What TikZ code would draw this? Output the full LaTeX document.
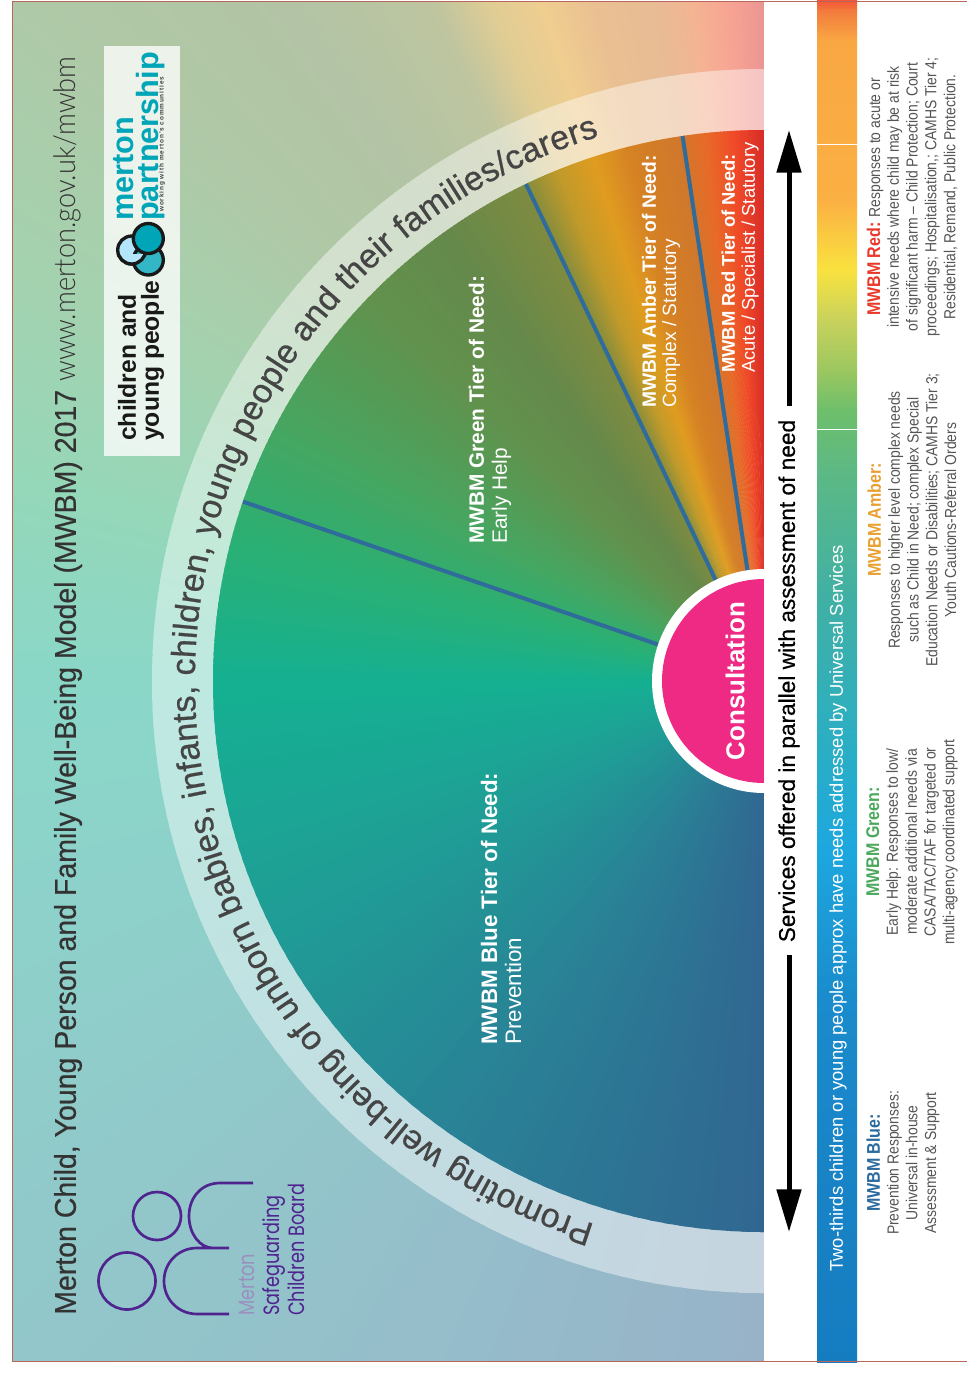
\documentclass[tikz,border=0pt]{standalone}
\usepackage{fontspec}
\usetikzlibrary{arrows.meta,decorations.text}
\setmainfont{Liberation Sans}
\newfontfamily\titlefont[FakeStretch=0.95,FakeBold=0.5]{Liberation Sans}
\newfontfamily\keyfont[FakeStretch=0.87]{Liberation Sans}
\newfontfamily\mediumfont[FakeBold=0.6]{Liberation Sans}
\newfontfamily\lightfont[UprightFont=* Light,FakeStretch=0.905]{Lato}
\newfontfamily\boardfont[FakeStretch=0.8]{Poppins}
\newcommand{\ringfont}{\mediumfont\fontsize{25.5}{28}\selectfont}
\definecolor{fanA}{HTML}{D02428}
\definecolor{fanB}{HTML}{F04A28}
\definecolor{fanC}{HTML}{E86A28}
\definecolor{fanD}{HTML}{D0782C}
\definecolor{fanE}{HTML}{D58124}
\definecolor{fanF}{HTML}{E09C20}
\definecolor{fanG}{HTML}{C09A2A}
\definecolor{fanH}{HTML}{7D8B40}
\definecolor{fanI}{HTML}{65894B}
\definecolor{fanJ}{HTML}{61914D}
\definecolor{fanK}{HTML}{4AA45E}
\definecolor{fanL}{HTML}{2AB074}
\definecolor{fanM}{HTML}{15B092}
\definecolor{fanN}{HTML}{1F9D96}
\definecolor{fanO}{HTML}{2A7F96}
\definecolor{fanP}{HTML}{316591}
\definecolor{tierblue}{HTML}{2F6B9B}
\definecolor{consultpink}{HTML}{EE2A84}
\definecolor{frameline}{HTML}{B8655A}
\definecolor{boardpurple}{HTML}{50248F}
\definecolor{boardlilac}{HTML}{9A90C0}
\definecolor{partnerteal}{HTML}{00A5B8}
\definecolor{bodygrey}{HTML}{555555}
\definecolor{ringink}{HTML}{454545}
\definecolor{amberhead}{HTML}{E8A030}
\definecolor{redhead}{HTML}{E8392B}
\definecolor{greenhead}{HTML}{4BA85C}
\definecolor{bluehead}{HTML}{2A6A9E}
\newcommand{\wheelfan}[1]{%
  \foreach \fromang/\toang/\fromcol/\tocol in {89/93/fanA/fanB,93/96/fanB/fanC,96/99/fanC/fanD,99/104/fanD/fanE,104/108/fanE/fanF,108/112/fanF/fanG,112/116/fanG/fanH,116/125/fanH/fanI,125/135/fanI/fanJ,135/150/fanJ/fanK,150/165/fanK/fanL,165/180/fanL/fanM,180/205/fanM/fanN,205/238/fanN/fanO,238/271/fanO/fanP}{
    \foreach \fanstep in {0,...,19}{
      \pgfmathsetmacro{\angA}{\fromang+(\toang-\fromang)*\fanstep/20}
      \pgfmathsetmacro{\angB}{\fromang+(\toang-\fromang)*(\fanstep+1.5)/20}
      \pgfmathsetmacro{\mixval}{\fanstep*5}
      \fill[\tocol!\mixval!\fromcol!#1!white] (wheelcentre) -- +(-\angA:1400) -- +(-\angB:1400) -- cycle;
    }
  }%
}
\tikzset{
  tierline/.style={draw=tierblue,line width=3pt},
  needarrow/.style={draw=black,line width=3.75pt,-{Triangle[length=32pt,width=18pt]}},
  tierlabel/.style={rotate=90,anchor=west,inner sep=0pt,align=left,text=white},
  keytext/.style={rotate=90,align=center,text=bodygrey,font=\keyfont\fontsize{12}{14.1}\selectfont},
  boardline/.style={draw=boardpurple,line width=2pt},
  logoring/.style={draw=black!90,line width=2.5pt},
}
\begin{document}
\begin{tikzpicture}[x=0.75pt,y=-0.75pt]
\useasboundingbox (0,0) rectangle (967,1379);
\coordinate (wheelcentre) at (764,681);
% backdrop, ring and inner wheel
\begin{scope}
  \clip (13,1) rectangle (764,1361);
  \wheelfan{50}
\end{scope}
\begin{scope}
  \clip (wheelcentre) circle[radius=612];
  \wheelfan{28}
\end{scope}
\begin{scope}
  \clip (wheelcentre) circle[radius=551];
  \wheelfan{100}
\end{scope}
% tier lines
\coordinate (bluerim) at ([shift={(-161:551)}]wheelcentre);
\coordinate (amberrim) at ([shift={(-115.6:551)}]wheelcentre);
\coordinate (redrim) at ([shift={(-98.5:551)}]wheelcentre);
\draw[tierline] (wheelcentre) -- (bluerim);
\draw[tierline] (wheelcentre) -- (amberrim);
\draw[tierline] (wheelcentre) -- (redrim);
\fill[white] (wheelcentre) circle[radius=112];
\fill[consultpink] (wheelcentre) circle[radius=102];
% right hand side
\fill[white] (764,0) rectangle (967,1379);
\fill[white] (0,1361) rectangle (967,1379);
\foreach \topy/\boty/\topcol/\botcol in {0/10/F45438/F27A3C,10/40/F27A3C/F9A743,40/200/F9A743/FBB043,200/270/FBB043/F9E23F,270/320/F9E23F/C8D25C,320/370/C8D25C/9CC760,370/410/9CC760/6EBF6B,410/470/6EBF6B/5DB984,470/600/5DB984/40B0A5,600/750/40B0A5/2AAEC5,750/850/2AAEC5/1DA7DF,850/1000/1DA7DF/1A8BCC,1000/1362/1A8BCC/157CC0}{
  \definecolor{bartop}{HTML}{\topcol}
  \definecolor{barbot}{HTML}{\botcol}
  \shade[top color=bartop,bottom color=barbot] (817,\topy) rectangle (857,\boty+0.5);
}
\draw[white,line width=0.75pt] (817,144) -- (857,144);
\draw[white,line width=0.75pt] (817,429) -- (857,429);
\draw[frameline,line width=0.75pt] (12.5,1) -- (967,1);
\draw[frameline,line width=0.75pt] (12.5,1) -- (12.5,1361) -- (967,1361);
% arc text
\path[decorate,decoration={text along path,text align={fit to path},text={|\ringfont\color{ringink}|Promoting well-being of unborn babies, infants, children, young people and their families/carers}}] (wheelcentre) ++(107.3:569) arc[start angle=107.3,end angle=253,radius=569];
% title
\node[rotate=90,anchor=west,inner sep=0pt,text=black!80,font=\titlefont\fontsize{22.5}{26}\selectfont] (titleline) at (68,1315) {Merton Child, Young Person and Family Well-Being Model (MWBM) 2017 {\lightfont www.merton.gov.uk/mwbm}};
% partnership logo
\fill[white,fill opacity=0.78] (104,46) rectangle (180,456);
\node[rotate=90,anchor=west,inner sep=0pt,align=left,text=black!90,font=\bfseries\fontsize{18.5}{17.3}\selectfont] (childrenlogo) at (141,441) {children and\\young people};
\node[rotate=90,anchor=west,inner sep=0pt,text=partnerteal,font=\bfseries\fontsize{23}{24}\selectfont] (mertonlogo) at (124,221) {merton};
\node[rotate=90,anchor=west,inner sep=0pt,text=partnerteal,font=\bfseries\fontsize{23}{24}\selectfont] (partnerlogo) at (150.5,221) {partnership};
\node[rotate=90,anchor=west,inner sep=0pt,text=black!75,font=\bfseries\fontsize{4.8}{5}\selectfont\addfontfeature{LetterSpace=14}] (workinglogo) at (162,212) {working with merton's communities};
\draw[logoring,fill=cyan!30!white] (131.7,250) circle[radius=14];
\draw[logoring,fill=partnerteal!80] (148.3,260) circle[radius=15];
\draw[logoring,fill=partnerteal] (148.3,238.5) circle[radius=15];
\begin{scope}
  \clip (110,254) rectangle (170,275);
  \draw[logoring,fill=cyan!30!white] (131.7,250) circle[radius=14];
\end{scope}
% safeguarding logo
\draw[boardline] (157,1216) circle[radius=24];
\draw[boardline] (127,1281) circle[radius=28.5];
\draw[boardline] (253,1183) -- (220,1183) .. controls (201,1183) and (189,1198) .. (189,1216) .. controls (189,1234) and (200,1248) .. (213,1248) -- (229,1248) -- (197,1248) .. controls (178,1248) and (164,1263) .. (164,1281) .. controls (164,1299) and (178,1314) .. (197,1314) -- (229,1314);
\node[rotate=90,anchor=west,inner sep=0pt,align=left,text=boardpurple,font=\boardfont\fontsize{16.6}{18.5}\selectfont] (boardname) at (272,1316) {{\color{boardlilac}Merton}\\Safeguarding\\Children Board};
% wheel labels
\node[tierlabel,font=\fontsize{16.8}{18}\selectfont] (bluelabel) at (501,1045) {\textbf{MWBM Blue Tier of Need:}\\Prevention};
\node[tierlabel,font=\fontsize{15.6}{17.3}\selectfont] (greenlabel) at (490,544) {\textbf{MWBM Green Tier of Need:}\\Early Help};
\node[tierlabel,font=\fontsize{14.4}{15.2}\selectfont] (amberlabel) at (661,408) {\textbf{MWBM Amber Tier of Need:}\\Complex / Statutory};
\node[tierlabel,font=\fontsize{13.8}{15}\selectfont] (redlabel) at (740,373) {\textbf{MWBM Red Tier of Need:}\\Acute / Specialist / Statutory};
\node[rotate=90,text=white,font=\bfseries\fontsize{19.4}{22}\selectfont] (consultlabel) at (735,681) {Consultation};
% need arrows
\node[rotate=90,text=black,font=\mediumfont\fontsize{17}{20}\selectfont] (needlabel) at (789,681) {Services offered in parallel with assessment of need};
\coordinate (uparrowstart) at (789,406);
\coordinate (uparrowtip) at (789,130);
\coordinate (downarrowstart) at (789,955);
\coordinate (downarrowtip) at (789,1232);
\draw[needarrow] (uparrowstart) -- (uparrowtip);
\draw[needarrow] (downarrowstart) -- (downarrowtip);
% bar and key
\node[rotate=90,text=white,font=\fontsize{13.8}{16}\selectfont] (barlabel) at (838,908.5) {Two-thirds children or young people approx have needs addressed by Universal Services};
\node[keytext] (bluekey) at (903,1163) {{\fontsize{13.8}{14.1}\selectfont\bfseries\color{bluehead}MWBM Blue:}\\Prevention Responses:\\Universal in-house\\Assessment \& Support};
\node[keytext] (greenkey) at (912,842) {{\fontsize{13.8}{14.1}\selectfont\bfseries\color{greenhead}MWBM Green:}\\Early Help: Responses to low/\\moderate additional needs via\\CASA/TAC/TAF for targeted or\\multi-agency coordinated support};
\node[keytext] (amberkey) at (912,520) {{\fontsize{13.8}{14.1}\selectfont\bfseries\color{amberhead}MWBM Amber:}\\Responses to higher level complex needs\\such as Child in Need; complex Special\\Education Needs or Disabilities; CAMHS Tier 3;\\Youth Cautions-Referral Orders};
\node[keytext] (redkey) at (912,197) {{\fontsize{13.8}{14.1}\selectfont\bfseries\color{redhead}MWBM Red:} Responses to acute or\\intensive needs where child may be at risk\\of significant harm – Child Protection; Court\\proceedings; Hospitalisation,; CAMHS Tier 4;\\Residential, Remand, Public Protection.};
\end{tikzpicture}
\end{document}
